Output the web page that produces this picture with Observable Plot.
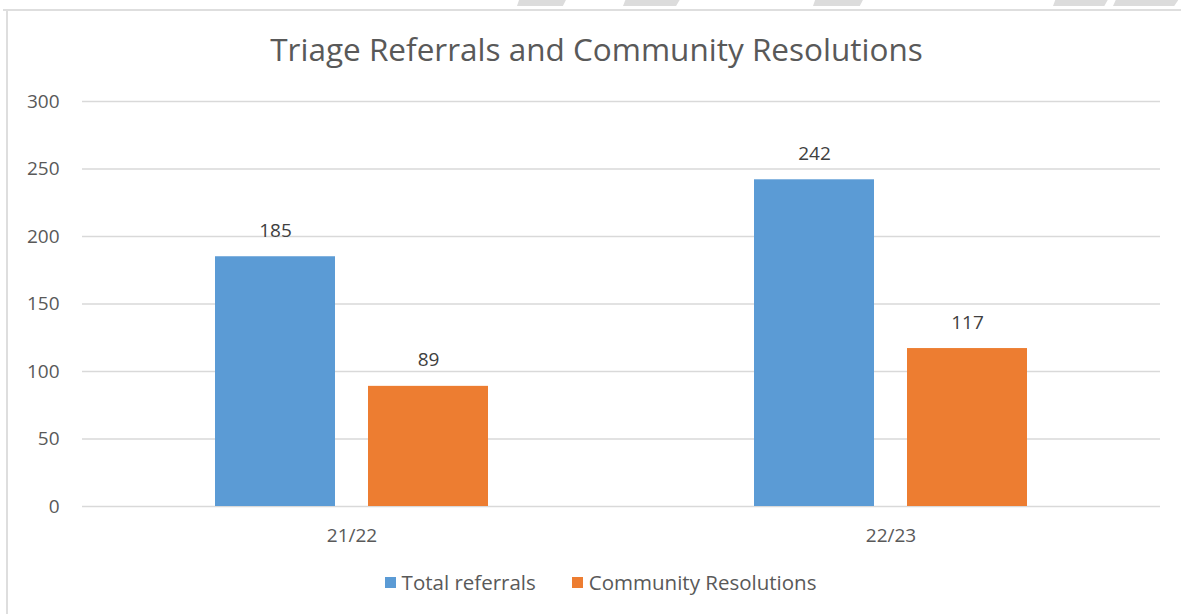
<!DOCTYPE html>
<html>
<head>
<meta charset="utf-8">
<script src="https://cdn.jsdelivr.net/npm/d3@7"></script>
<script src="https://cdn.jsdelivr.net/npm/@observablehq/plot@0.6"></script>
<style>
  body { margin: 0; background: #fff; }
  #wrap { position: relative; width: 1181px; height: 614px; overflow: hidden; background: #fff;
          font-family: "Open Sans", sans-serif; color: #595959; }
  .frame-top { position: absolute; left: 3px; right: 0; top: 9px; height: 2px; background: #dedede; }
  .frame-left { position: absolute; left: 6px; top: 10px; bottom: 0; width: 2px; background: #dedede; }
  .deco { position: absolute; top: 0; height: 6px; background: #dcdcdc;
          clip-path: polygon(4% 0, 96% 0, 90% 100%, 0 100%); }
  #title { position: absolute; left: 6px; width: 1181px; top: 27px; text-align: center;
           font-size: 31.5px; line-height: 43px; color: #595959; white-space: nowrap; }
  #chart { position: absolute; left: 0; top: 0; }
  #legend { position: absolute; left: 10px; width: 1181px; top: 569px; display: flex; justify-content: center;
            font-size: 20.5px; line-height: 26px; color: #595959; }
  .item { display: flex; align-items: center; margin: 0 18px; }
  .sw { width: 11px; height: 11px; margin-right: 6px; }
</style>
</head>
<body>
<div id="wrap">
  <div class="frame-top"></div>
  <div class="frame-left"></div>
  <div class="deco" style="left:517px;width:51px"></div>
  <div class="deco" style="left:623px;width:59px"></div>
  <div class="deco" style="left:813px;width:52px"></div>
  <div class="deco" style="left:1053px;width:57px"></div>
  <div class="deco" style="left:1113px;width:68px"></div>
  <div id="title">Triage Referrals and Community Resolutions</div>
  <div id="chart"></div>
  <div id="legend"></div>
</div>
<script>
const years = ["21/22", "22/23"];
const seriesNames = ["Total referrals", "Community Resolutions"];
const totalReferrals = [185, 242];
const communityResolutions = [89, 117];
const seriesColors = ["#5B9BD5", "#ED7D31"];
const yTicks = [0, 50, 100, 150, 200, 250, 300];

const data = years.flatMap((yr, i) => [
  { year: yr, series: seriesNames[0], value: totalReferrals[i] },
  { year: yr, series: seriesNames[1], value: communityResolutions[i] }
]);

const plot = Plot.plot({
  width: 1181,
  height: 614,
  marginTop: 101,
  marginBottom: 108,
  marginLeft: 81,
  marginRight: 21,
  style: { fontFamily: "'Open Sans', sans-serif", fontSize: "19px", color: "#595959", background: "transparent" },
  fx: { domain: years, padding: 0, label: null },
  x: { domain: seriesNames, paddingInner: 0.214, paddingOuter: 0.86, axis: null },
  y: { domain: [0, 300], label: null },
  color: { domain: seriesNames, range: seriesColors },
  marks: [
    Plot.gridY(yTicks, { stroke: "#d9d9d9", strokeOpacity: 1, strokeWidth: 1.5 }),
    Plot.barY(data, { fx: "year", x: "series", y: "value", fill: "series" }),
    Plot.text(data, { fx: "year", x: "series", y: "value", text: d => String(d.value),
      lineAnchor: "bottom", dy: -20, fill: "#404040", fontSize: 19 }),
    Plot.axisY(yTicks, { tickSize: 0, tickPadding: 23, label: null, fill: "#595959" }),
    Plot.axisFx({ anchor: "bottom", tickSize: 0, tickPadding: 22, label: null, fill: "#595959" })
  ]
});
document.getElementById("chart").appendChild(plot);

const legend = document.getElementById("legend");
seriesNames.forEach((name, i) => {
  const item = document.createElement("div");
  item.className = "item";
  const sw = document.createElement("div");
  sw.className = "sw";
  sw.style.background = seriesColors[i];
  const label = document.createElement("span");
  label.textContent = name;
  item.appendChild(sw);
  item.appendChild(label);
  legend.appendChild(item);
});
</script>
</body>
</html>
